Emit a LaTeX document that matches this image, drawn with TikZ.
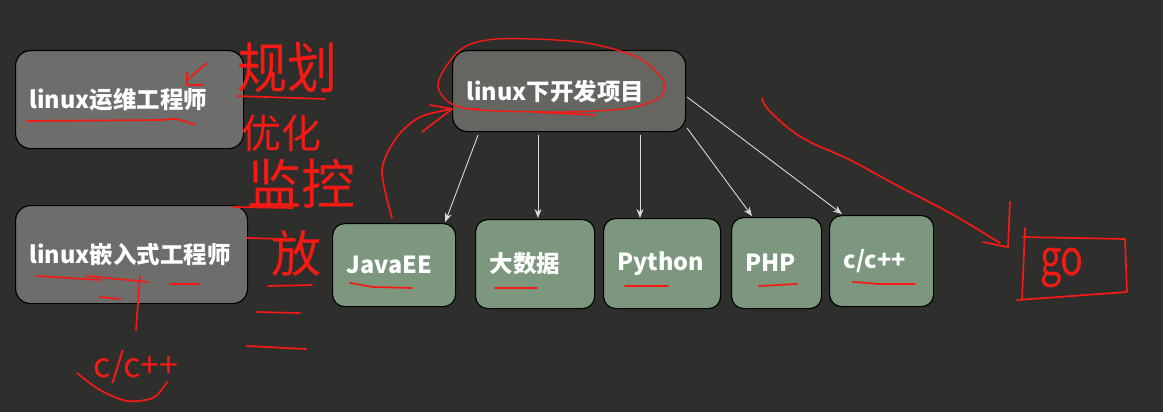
\documentclass[tikz,border=0pt]{standalone}
\usepackage{fontspec}
\setmainfont{Noto Sans CJK SC}
\usetikzlibrary{arrows.meta,calc}
\definecolor{board}{HTML}{2E2E2D}
\definecolor{boxgray}{HTML}{6D6D6B}
\definecolor{devgray}{HTML}{656562}
\definecolor{boxgreen}{HTML}{7C977D}
\definecolor{hred}{HTML}{F51A14}
\definecolor{arrowc}{HTML}{DADADA}
\tikzset{
  basebox/.style={draw=black, line width=1.2pt, anchor=north west, inner xsep=14pt, inner ysep=0pt,
    align=left, text=white, font=\bfseries\fontsize{23.5}{25}\selectfont},
  graybox/.style={basebox, fill=boxgray, rounded corners=15pt},
  greenbox/.style={basebox, fill=boxgreen, rounded corners=12pt},
  link/.style={draw=arrowc, line width=0.9pt, -{Stealth[length=9pt,width=7pt]}},
  hand/.style={draw=hred, line width=1.7pt, line cap=round, line join=round},
  handtxt/.style={text=hred, inner sep=0pt}
}
\begin{document}
\begin{tikzpicture}[x=1pt,y=-1pt]
\fill[board] (0,0) rectangle (1163,412);
\useasboundingbox (0,0) rectangle (1163,412);

% boxes
\node[graybox, minimum width=228pt, minimum height=98pt, text width=200pt] (ops) at (15,50) {linux运维工程师};
\node[graybox, minimum width=232pt, minimum height=98pt, text width=204pt] (emb) at (15,205) {linux嵌入式工程师};
\node[graybox, fill=devgray, minimum width=233pt, minimum height=81pt, text width=205pt] (dev) at (452,50) {linux下开发项目};
\node[greenbox, minimum width=123pt, minimum height=83pt, text width=95pt] (java) at (332,223) {JavaEE};
\node[greenbox, minimum width=119pt, minimum height=89pt, text width=91pt] (big) at (475,219) {大数据};
\node[greenbox, minimum width=117pt, minimum height=90pt, text width=89pt] (py) at (603,218) {Python};
\node[greenbox, minimum width=90pt, minimum height=91pt, text width=62pt] (php) at (731,217) {PHP};
\node[greenbox, minimum width=104pt, minimum height=91pt, text width=76pt] (cpp) at (829,215) {c/c++};

% connectors
\draw[link] ($(dev.south west)+(26,3)$) -- ($(java.north east)+(-11,-1)$);
\draw[link] ($(dev.south west)+(86,3)$) -- ($(big.north west)+(63,-1)$);
\draw[link] ($(dev.south west)+(188,3)$) -- ($(py.north west)+(37,0)$);
\draw[link] ($(dev.south east)+(1,-4)$) -- ($(php.north west)+(21,-1)$);
\draw[link] ($(dev.east)+(1,6)$) -- ($(cpp.north west)+(13,-1)$);

% handwritten annotations
\node[handtxt, font=\fontsize{50}{50}\selectfont, yscale=1.1] (hw1) at (287,68) {规划};
\node[handtxt, font=\fontsize{40}{40}\selectfont] (hw2) at (281,133) {优化};
\node[handtxt, font=\fontsize{54}{54}\selectfont] (hw3) at (301,184) {监控};
\node[handtxt, font=\fontsize{50}{50}\selectfont] (hw4) at (296,253) {放};
\node[handtxt, font=\fontsize{34}{34}\selectfont] (hw5) at (136,367) {c/c++};
\node[handtxt, font=\fontsize{38}{38}\selectfont, yscale=1.3] (hw6) at (1062,268) {go};

% underline under ops text and small arrow
\draw[hand] (27,121) -- (163,120) .. controls (175,117) and (185,121) .. (195,125);
\draw[hand] (207,63) -- (187,80);
\draw[hand] (187,72) -- (187,85) -- (203,85);
\draw[hand] (237,96) -- (325,99);
\draw[hand] (233,207) -- (293,208);
\draw[hand] (247,238) -- (283,239);
\draw[hand] (268,286) -- (312,285);
\draw[hand] (257,312) -- (300,313);
\draw[hand] (247,346) -- (306,349);

% under emb text
\draw[hand] (37,276) -- (100,280);
\draw[hand] (87,276) -- (148,282);
\draw[hand] (100,297) -- (120,299);
\draw[hand] (170,284) -- (200,284);
\draw[hand] (140,276) -- (136,330);
\draw[hand] plot[smooth] coordinates {(77,373) (100,390) (127,401) (153,398) (165,385) (167,382)};

% ellipse around dev text
\draw[hand, line width=1.4pt] plot[smooth cycle] coordinates {(438,85) (460,50) (497,39) (580,42) (637,57) (663,80) (660,97) (630,108) (563,112) (463,108)};
\draw[hand] (470,109) -- (478,109);
\draw[hand] (533,112) -- (595,115);

% curved arrow from JavaEE to dev
\draw[hand] plot[smooth] coordinates {(392,218) (382,170) (397,137) (420,117) (452,109)};
\draw[hand] (430,105) -- (452,109) -- (422,132);

% underlines in small boxes
\draw[hand] (350,283) -- (373,287) -- (412,288);
\draw[hand] (495,288) -- (537,288);
\draw[hand] (625,286) -- (668,286);
\draw[hand] (759,286) -- (797,284);
\draw[hand] (853,282) -- (868,283) -- (878,284) -- (915,284);

% long curve to go
\draw[hand] plot[smooth, tension=0.6] coordinates {(762,98) (767,108) (787,127) (810,142) (850,160) (900,187) (950,213) (1000,243)};
\draw[hand] (1010,202) -- (1008,247);
\draw[hand] (983,242) -- (1007,247);
\draw[hand] (1025,228) -- (1022,300);
\draw[hand] (1023,237) -- (1125,239) -- (1127,292) -- (1017,300);
\end{tikzpicture}
\end{document}
